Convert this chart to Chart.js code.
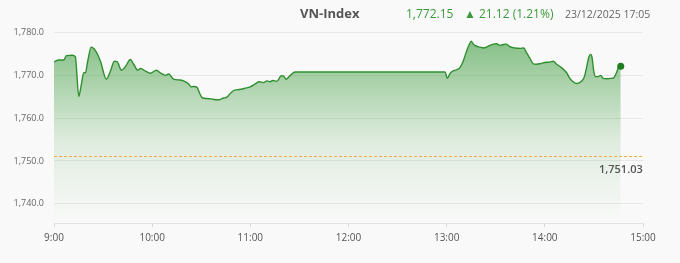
<!DOCTYPE html>
<html>
<head>
<meta charset="utf-8">
<script src="https://cdn.jsdelivr.net/npm/chart.js@4.4.1/dist/chart.umd.min.js"></script>
<style>
  html,body{margin:0;padding:0;background:#f9f9f9;}
  #wrap{position:relative;width:680px;height:263px;font-family:"Open Sans","Noto Sans",Arial,sans-serif;}
  canvas{position:absolute;left:0;top:0;}
  .t{position:absolute;white-space:nowrap;line-height:1;}
  #name{left:300px;top:7px;font-size:13px;font-weight:bold;color:#555;}
  #price{left:406px;top:8px;font-size:12px;color:#3c9a3c;}
  #chg{left:464px;top:8px;font-size:12px;color:#3c9a3c;}
  #time{left:565px;top:9px;font-size:10.5px;color:#666;}
  #refLbl{font-size:11px;font-weight:600;color:#555;}
</style>
</head>
<body>
<div id="wrap">
  <canvas id="c" width="680" height="263"></canvas>
  <div class="t" id="name">VN-Index</div>
  <div class="t" id="price">1,772.15</div>
  <div class="t" id="chg">▲ 21.12 (1.21%)</div>
  <div class="t" id="time">23/12/2025 17:05</div>
  <div class="t" id="refLbl">1,751.03</div>
</div>
<script>
// minutes after 9:00
const minutes = [0,2.9,6,7.6,11.1,13.1,13.7,15.1,16.6,18.2,19.2,20.6,22.7,25.3,28.4,32,34.5,36.9,38.6,41.2,43.6,46.7,48.7,51.2,52.8,55.9,58.9,62.6,65,68.1,70.1,73.1,77.2,79.8,82.3,83.9,85.3,87.4,88.8,90.8,93.5,96.1,98.6,100.6,103.6,105.7,108.3,110.8,113.2,116.9,119.9,123,125.4,128.1,130.1,132.2,133.6,136.2,138.9,140.3,141.9,144.4,147.4,150,239,240.4,242,243.7,246.1,248.1,250.1,252.2,253.8,255,256.3,258.3,260.3,262.4,264.4,266.4,268.5,270.5,272.6,274.6,276.6,278.6,281.7,284.8,287.2,288.8,290.9,292.9,294.9,297,300,303.1,305.1,307.2,310.2,313.3,315.3,317.3,319.4,322,324,325.5,326.9,328.1,328.9,329.9,331,332.5,334.2,335.6,337.7,340.7,342.3,343.8,345.2,346.4];
const indexValues = [1773.1,1773.6,1773.6,1774.6,1774.7,1774.3,1771.8,1765.1,1767.6,1770.6,1770.6,1773.3,1776.6,1775.8,1773.3,1769.1,1771.0,1773.3,1773.2,1771.2,1772.0,1773.7,1772.6,1771.2,1771.6,1771.0,1770.5,1771.2,1770.6,1770.0,1770.3,1769.1,1768.9,1768.6,1768.0,1767.3,1767.4,1767.2,1766.0,1764.7,1764.6,1764.5,1764.3,1764.3,1764.7,1764.9,1766.0,1766.6,1766.7,1767.0,1767.3,1768.0,1768.5,1768.3,1768.7,1768.5,1768.8,1768.6,1769.9,1769.8,1769.1,1770.0,1770.8,1770.8,1770.8,1769.3,1770.4,1771.0,1771.3,1771.8,1773.3,1775.7,1777.2,1778.0,1777.3,1776.8,1776.6,1776.4,1776.6,1777.0,1777.3,1777.4,1777.0,1777.2,1777.3,1776.7,1776.4,1776.3,1776.4,1775.3,1774.0,1772.7,1772.6,1772.7,1773.0,1773.1,1773.3,1772.6,1771.8,1770.6,1769.3,1768.5,1768.1,1768.5,1769.5,1771.8,1774.3,1774.9,1774.1,1771.0,1769.7,1769.7,1770.0,1769.3,1769.2,1769.3,1769.5,1770.6,1772.0,1772.15];
const prevClose = 1751.03;
const xTickMinutes = [0,60,120,180,240,300,360];
const yTickValues = [1740,1750,1760,1770,1780];

const points = minutes.map((m,i)=>({x:m,y:indexValues[i]}));
const refPoints = [{x:0,y:prevClose},{x:360,y:prevClose}];

const refLabelPlugin = {
  id:'refLabel',
  afterRender(chart){
    const y = chart.scales.y.getPixelForValue(prevClose);
    const el = document.getElementById('refLbl');
    el.style.top = (y + 6) + 'px';
    el.style.left = (chart.chartArea.right - 44) + 'px';
  }
};

new Chart(document.getElementById('c'), {
  type:'line',
  data:{datasets:[
    {
      data:points,
      borderColor:'#2f8f2f',
      borderWidth:1.4,
      cubicInterpolationMode:'monotone',
      pointRadius:points.map((p,i)=> i===points.length-1 ? 3.5 : 0),
      pointBackgroundColor:'#1e7d1e',
      pointBorderWidth:0,
      fill:'start',
      backgroundColor(ctx){
        const a = ctx.chart.chartArea;
        if(!a) return 'rgba(60,160,60,0.3)';
        const g = ctx.chart.ctx.createLinearGradient(0,a.top,0,a.bottom);
        g.addColorStop(0,'rgba(50,150,50,0.65)');
        g.addColorStop(0.6,'rgba(50,150,50,0.12)');
        g.addColorStop(1,'rgba(50,150,50,0.0)');
        return g;
      },
      order:1
    },
    {
      data:refPoints,
      borderColor:'#f0ac3c',
      borderWidth:1,
      borderDash:[3,2],
      pointRadius:0,
      fill:false,
      order:0
    }
  ]},
  options:{
    responsive:false,
    animation:false,
    layout:{padding:{top:24,right:37,left:0,bottom:0}},
    plugins:{legend:{display:false},tooltip:{enabled:false}},
    scales:{
      x:{
        type:'linear',min:0,max:360,
        afterBuildTicks(ax){ax.ticks = xTickMinutes.map(v=>({value:v}));},
        afterFit(ax){ax.height = 40;},
        ticks:{
          callback:(v)=> (9+v/60)+':00',
          color:'#555',font:{size:10,family:'"Open Sans","Noto Sans",sans-serif'},
          padding:5,maxRotation:0,autoSkip:false
        },
        grid:{display:true,drawOnChartArea:false,drawTicks:true,tickLength:4,color:'#d6d6d6'},
        border:{display:true,color:'#e2e2e2'}
      },
      y:{
        min:1735.5,max:1782,
        afterBuildTicks(ax){ax.ticks = yTickValues.map(v=>({value:v}));},
        afterFit(ax){ax.width = 54;},
        ticks:{
          callback:(v)=> v.toLocaleString('en-US',{minimumFractionDigits:1,maximumFractionDigits:1}),
          color:'#666',font:{size:9,family:'"Open Sans","Noto Sans",sans-serif'},
          padding:10
        },
        grid:{color:'#e8e8e8',drawTicks:false},
        border:{display:false}
      }
    }
  },
  plugins:[refLabelPlugin]
});
</script>
</body>
</html>
